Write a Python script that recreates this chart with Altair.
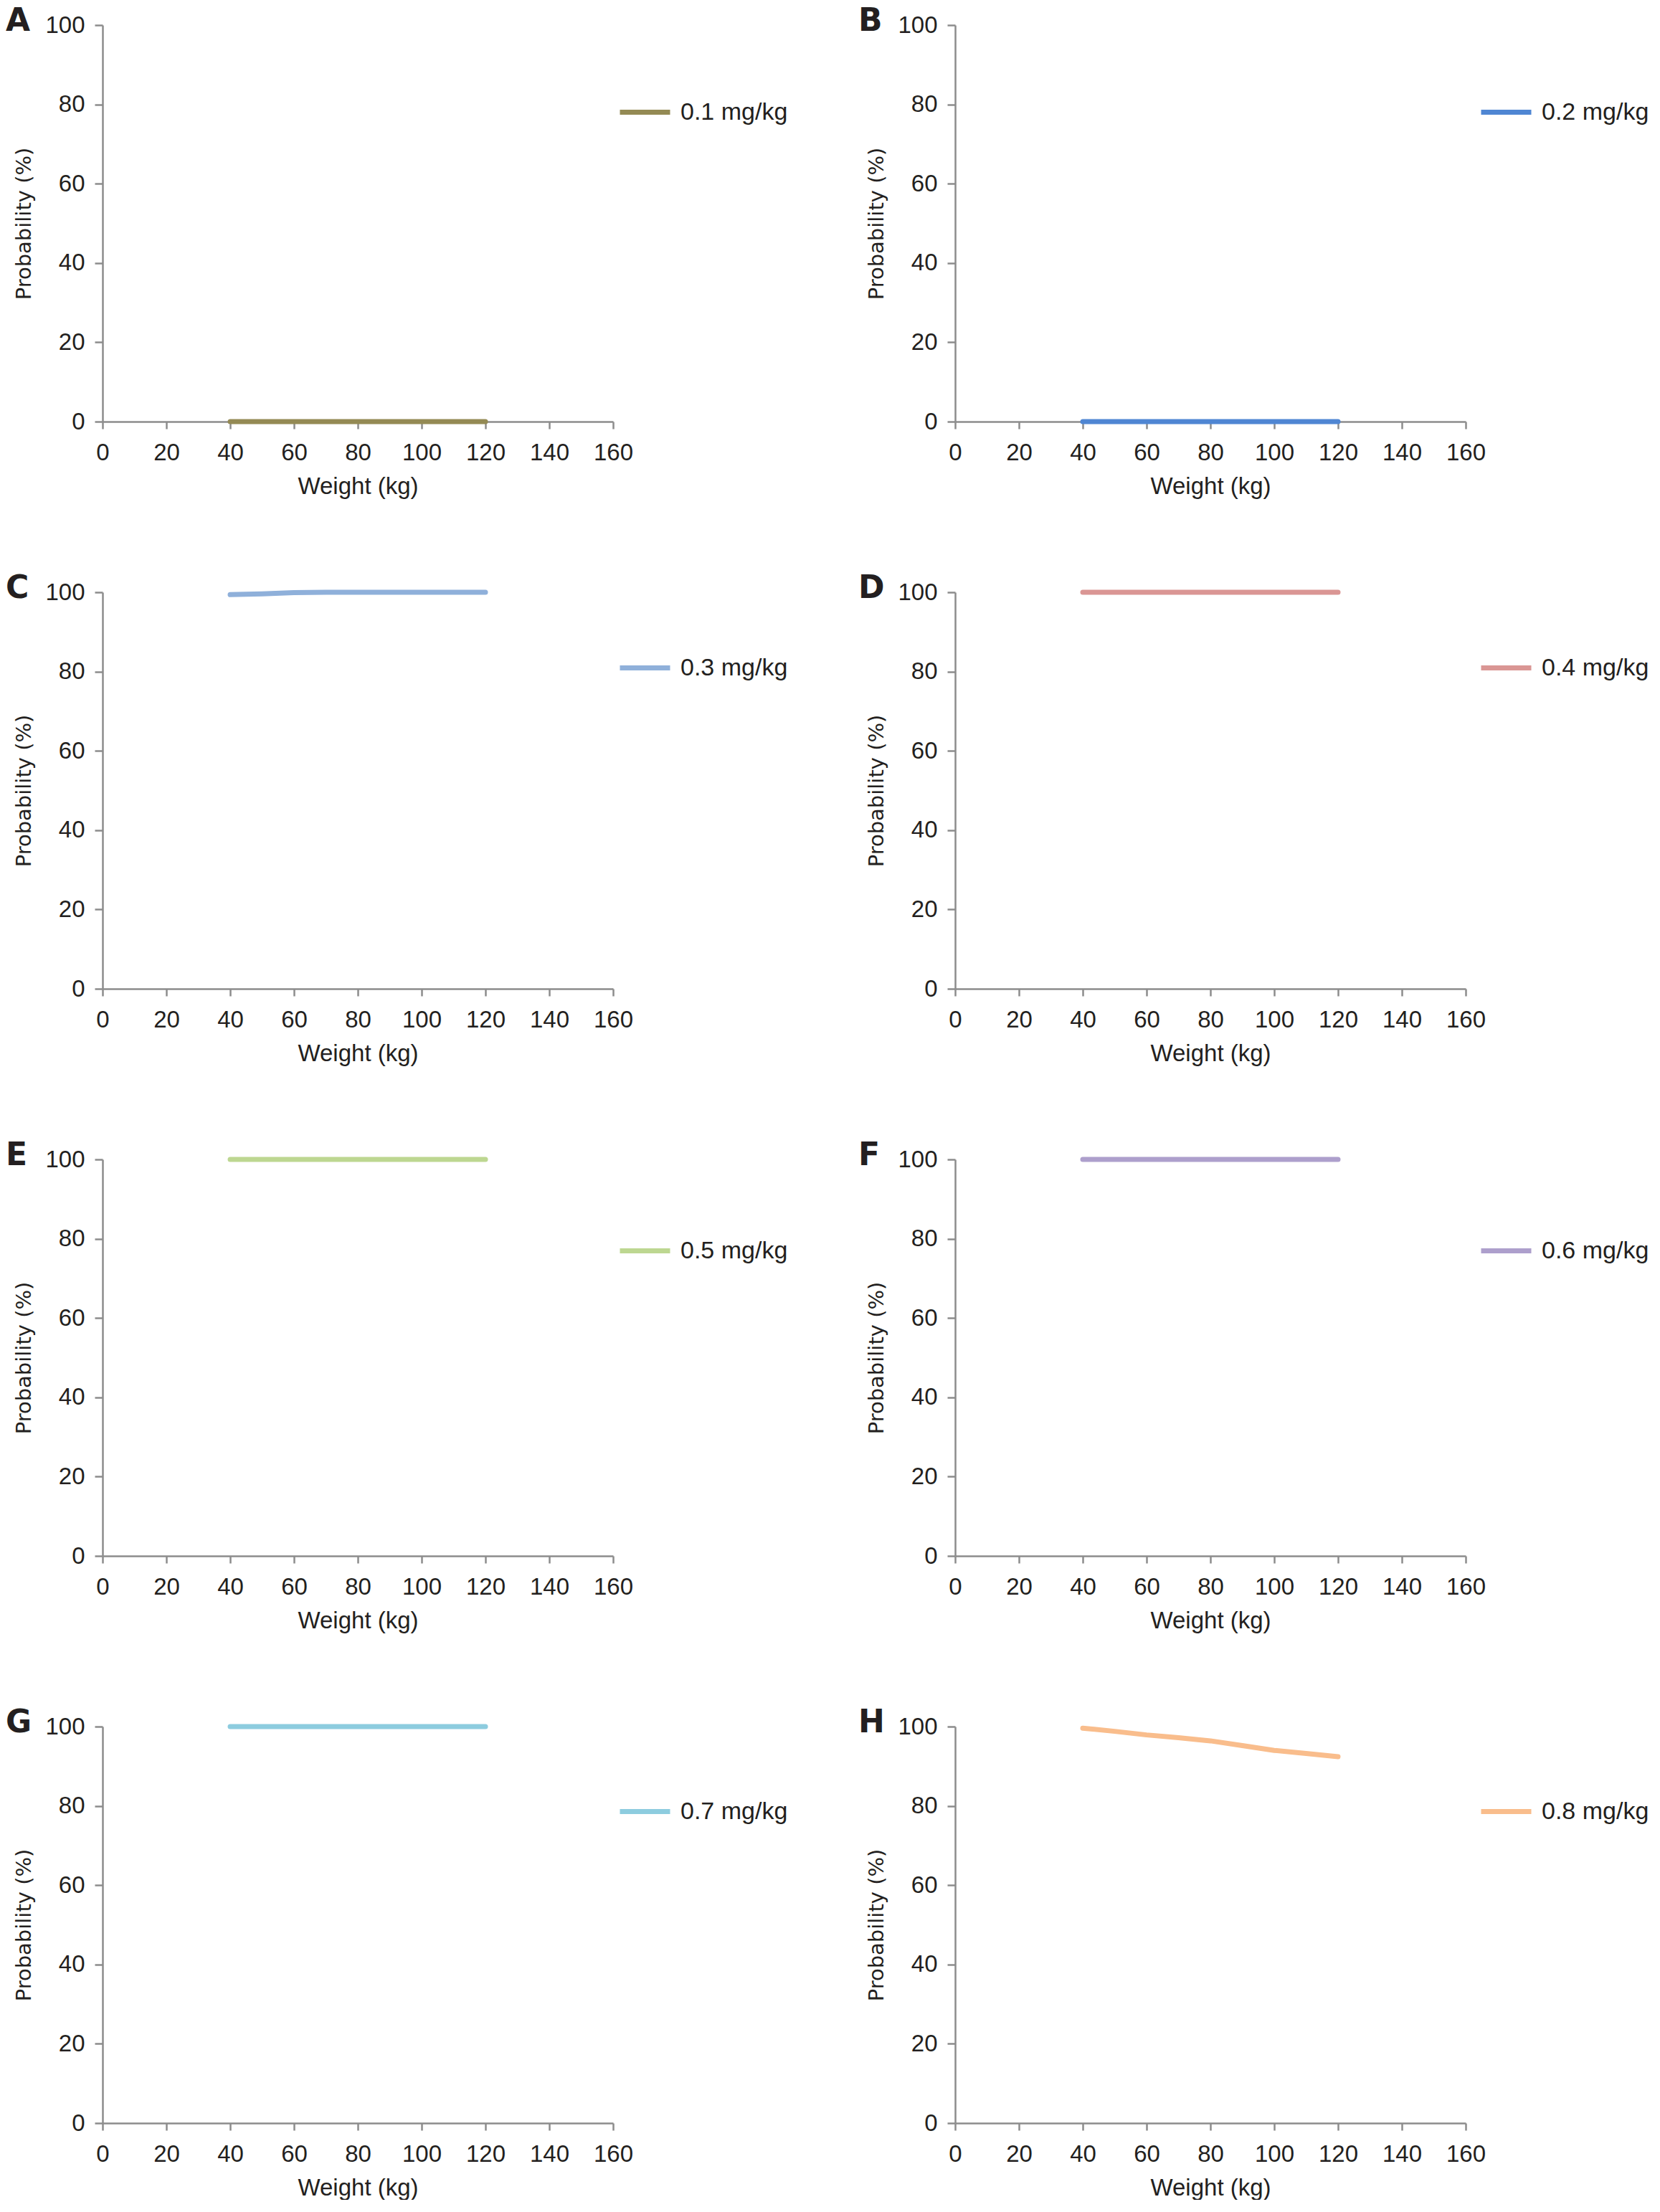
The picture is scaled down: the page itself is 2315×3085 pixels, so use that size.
import altair as alt
import pandas as pd

# ---- data ----
panel_letters = ["A", "B", "C", "D", "E", "F", "G", "H"]
dose_labels = ["0.1 mg/kg", "0.2 mg/kg", "0.3 mg/kg", "0.4 mg/kg",
               "0.5 mg/kg", "0.6 mg/kg", "0.7 mg/kg", "0.8 mg/kg"]
dose_colors = ["#948A54", "#4F86D3", "#8FB0DA", "#DA9694",
               "#BDD791", "#AD9FCC", "#8DCCDF", "#F9BD8C"]

weights = [40, 50, 60, 70, 80, 90, 100, 110, 120]
prob_01 = [0, 0, 0, 0, 0, 0, 0, 0, 0]
prob_02 = [0, 0, 0, 0, 0, 0, 0, 0, 0]
prob_03 = [99.4, 99.6, 99.9, 100, 100, 100, 100, 100, 100]
prob_04 = [100, 100, 100, 100, 100, 100, 100, 100, 100]
prob_05 = [100, 100, 100, 100, 100, 100, 100, 100, 100]
prob_06 = [100, 100, 100, 100, 100, 100, 100, 100, 100]
prob_07 = [100, 100, 100, 100, 100, 100, 100, 100, 100]
prob_08 = [99.6, 98.8, 97.9, 97.2, 96.4, 95.2, 94.0, 93.2, 92.4]
series = [prob_01, prob_02, prob_03, prob_04, prob_05, prob_06, prob_07, prob_08]

x_ticks = [0, 20, 40, 60, 80, 100, 120, 140, 160]
y_ticks = [0, 20, 40, 60, 80, 100]

legend_y = [83, 83, 67, 67, 89, 89, 80, 80]
legend_x = [718, 730, 718, 730, 718, 730, 718, 730]

TEXT = "#231f20"
AXIS = "#8c8c8c"
W, H = 712, 553

panels = []
for i in range(8):
    df = pd.DataFrame({"weight": weights, "prob": series[i], "dose": dose_labels[i]})
    line = alt.Chart(df).mark_line(strokeWidth=7, strokeCap="round", strokeJoin="round").encode(
        x=alt.X("weight:Q",
                scale=alt.Scale(domain=[0, 160], nice=False, zero=True),
                axis=alt.Axis(values=x_ticks, title="Weight (kg)", grid=False,
                              domainColor=AXIS, domainWidth=2.5, tickColor=AXIS,
                              tickWidth=2.5, tickSize=10, labelPadding=17,
                              labelFont="Liberation Sans", labelFontSize=33,
                              labelColor=TEXT, titleFont="Liberation Sans",
                              titleFontSize=33, titleFontWeight="normal",
                              titleColor=TEXT, titlePadding=14, labelFlush=False)),
        y=alt.Y("prob:Q",
                scale=alt.Scale(domain=[0, 100], nice=False),
                axis=alt.Axis(values=y_ticks, title="Probability (%)", grid=False,
                              domainColor=AXIS, domainWidth=2.5, tickColor=AXIS,
                              tickWidth=2.5, tickSize=11, labelPadding=14,
                              labelFont="Liberation Sans", labelFontSize=33,
                              labelColor=TEXT, titleFont="DejaVu Sans",
                              titleFontSize=29, titleFontWeight="normal",
                              titleColor=TEXT, titlePadding=14, labelFlush=False)),
        color=alt.Color("dose:N",
                        scale=alt.Scale(domain=[dose_labels[i]], range=[dose_colors[i]]),
                        legend=alt.Legend(orient="none", legendX=legend_x[i],
                                          legendY=legend_y[i],
                                          title=None, symbolType="stroke",
                                          symbolStrokeWidth=7, symbolSize=4900,
                                          labelFont="Liberation Sans", labelFontSize=34,
                                          labelColor=TEXT, labelOffset=11, padding=0)),
    )
    letter_df = pd.DataFrame({"letter": [panel_letters[i]]})
    letter = alt.Chart(letter_df).mark_text(
        align="left", baseline="alphabetic", font="DejaVu Sans",
        fontSize=44, fontWeight="bold", color=TEXT
    ).encode(x=alt.value(-135), y=alt.value(8), text="letter:N")
    panels.append(alt.layer(line, letter).properties(width=W, height=H))

chart = alt.concat(*panels, columns=2, spacing={"row": 238, "column": 477},
                   bounds="flush").properties(padding=0, background="white").configure_view(
    stroke=None).resolve_scale(color="independent")

chart.save("out.html", embed_options={"renderer": "svg", "actions": False})
